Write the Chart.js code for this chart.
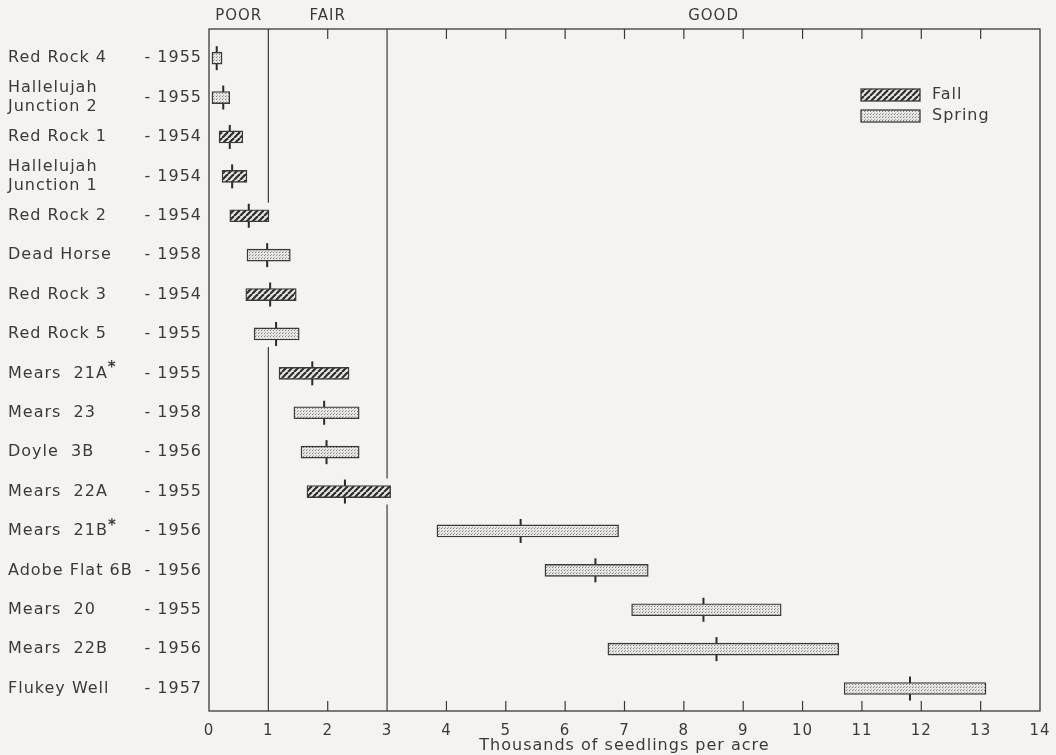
<!DOCTYPE html>
<html>
<head>
<meta charset="utf-8">
<script src="https://cdn.jsdelivr.net/npm/chart.js@4"></script>
<style>
  html, body { margin: 0; padding: 0; background: #f4f3ef; }
  #wrap { width: 1056px; height: 755px; position: relative; }
</style>
</head>
<body>
<div id="wrap"><canvas id="chart" width="1056" height="755"></canvas></div>
<script>
// sites, top to bottom ("|" splits a name over two lines, "*" is raised)
const siteNames = [
    "Red Rock 4", "Hallelujah|Junction 2", "Red Rock 1", "Hallelujah|Junction 1",
    "Red Rock 2", "Dead Horse", "Red Rock 3", "Red Rock 5", "Mears  21A*",
    "Mears  23", "Doyle  3B", "Mears  22A", "Mears  21B*", "Adobe Flat 6B",
    "Mears  20", "Mears  22B", "Flukey Well"
];
const siteYears = ["1955", "1955", "1954", "1954", "1954", "1958", "1954", "1955", "1955",
    "1958", "1956", "1955", "1956", "1956", "1955", "1956", "1957"];
const seasons = ["Spring", "Spring", "Fall", "Fall", "Fall", "Spring", "Fall", "Spring", "Fall",
    "Spring", "Spring", "Fall", "Spring", "Spring", "Spring", "Spring", "Spring"];

// thousands of seedlings per acre
const lows  = [0.05, 0.05, 0.17, 0.22, 0.35, 0.64, 0.62, 0.76, 1.18, 1.43, 1.55, 1.65, 3.84, 5.66, 7.12, 6.72, 10.70];
const highs = [0.22, 0.35, 0.57, 0.64, 1.01, 1.37, 1.47, 1.52, 2.36, 2.53, 2.53, 3.06, 6.90, 7.40, 9.64, 10.61, 13.09];
const means = [0.13, 0.24, 0.35, 0.39, 0.67, 0.98, 1.03, 1.13, 1.74, 1.94, 1.98, 2.29, 5.25, 6.51, 8.33, 8.55, 11.81];

const xTicks = [0, 1, 2, 3, 4, 5, 6, 7, 8, 9, 10, 11, 12, 13, 14];
const classBreaks = [1, 3];
const classNames = ["POOR", "FAIR", "GOOD"];

const ink = "#3a3a3a";
const font = "'DejaVu Sans', 'Noto Sans', sans-serif";

function makeHatch() {
    const c = document.createElement("canvas");
    c.width = 6; c.height = 6;
    const g = c.getContext("2d");
    g.fillStyle = "#e6e6e3";
    g.fillRect(0, 0, 6, 6);
    g.strokeStyle = "#2e2e2e";
    g.lineWidth = 2.2;
    [-6, 0, 6].forEach(o => {
        g.beginPath();
        g.moveTo(o, 6);
        g.lineTo(o + 6, 0);
        g.stroke();
    });
    return g.createPattern(c, "repeat");
}

function makeStipple() {
    const c = document.createElement("canvas");
    c.width = 3; c.height = 3;
    const g = c.getContext("2d");
    g.fillStyle = "#e6e6e3";
    g.fillRect(0, 0, 3, 3);
    g.fillStyle = "#808080";
    g.fillRect(0, 0, 1, 1);
    g.fillStyle = "#aaaaaa";
    g.fillRect(1, 2, 1, 1);
    return g.createPattern(c, "repeat");
}

const hatch = makeHatch();
const stipple = makeStipple();

function rowsFor(season) {
    const out = [];
    seasons.forEach((s, i) => {
        if (s === season) out.push({ x: [lows[i], highs[i]], y: i });
    });
    return out;
}

// wider lettering, like the drafted original
const spacing = {
    id: "spacing",
    beforeDraw(chart) { chart.ctx.letterSpacing = "1px"; }
};

// frame, inward ticks, class lines and headings, site labels, legend
const decor = {
    id: "decor",
    beforeDatasetsDraw(chart) {
        const { ctx, chartArea: a, scales: { x, y } } = chart;
        ctx.save();
        ctx.strokeStyle = ink;
        ctx.lineWidth = 1.3;
        ctx.strokeRect(a.left, a.top, a.right - a.left, a.bottom - a.top);

        // inward ticks top and bottom
        ctx.lineWidth = 1.2;
        xTicks.forEach(v => {
            if (v === 0 || v === 14 || classBreaks.includes(v)) return;
            const px = x.getPixelForValue(v);
            ctx.beginPath();
            ctx.moveTo(px, a.top); ctx.lineTo(px, a.top + 10);
            ctx.moveTo(px, a.bottom); ctx.lineTo(px, a.bottom - 10);
            ctx.stroke();
        });

        // class boundary lines, broken where bars cross them
        const step = Math.abs(y.getPixelForValue(1) - y.getPixelForValue(0));
        classBreaks.forEach(v => {
            const px = x.getPixelForValue(v);
            const hit = [];
            lows.forEach((lo, i) => { if (lo <= v && highs[i] >= v) hit.push(i); });
            let segStart = a.top;
            let i = 0;
            while (i < hit.length) {
                let j = i;
                while (j + 1 < hit.length && hit[j + 1] === hit[j] + 1) j++;
                const gTop = y.getPixelForValue(hit[i]) - step * 0.33;
                const gBot = y.getPixelForValue(hit[j]) + step * 0.33;
                ctx.beginPath();
                ctx.moveTo(px, segStart); ctx.lineTo(px, gTop);
                ctx.stroke();
                segStart = gBot;
                i = j + 1;
            }
            ctx.beginPath();
            ctx.moveTo(px, segStart); ctx.lineTo(px, a.bottom);
            ctx.stroke();
        });

        // POOR / FAIR / GOOD headings
        const edges = [x.min].concat(classBreaks, [x.max]);
        ctx.fillStyle = ink;
        ctx.font = "15px " + font;
        ctx.textAlign = "center";
        ctx.textBaseline = "middle";
        classNames.forEach((n, k) => {
            const mid = (edges[k] + edges[k + 1]) / 2;
            ctx.fillText(n, x.getPixelForValue(mid), a.top - 13);
        });

        // site names and years
        ctx.font = "16px " + font;
        siteNames.forEach((name, i) => {
            const py = y.getPixelForValue(i);
            const lines = name.split("|");
            lines.forEach((ln, k) => {
                const ly = py + (k - (lines.length - 1) / 2) * 19;
                ctx.textAlign = "left";
                const star = ln.endsWith("*");
                const txt = star ? ln.slice(0, -1) : ln;
                ctx.fillText(txt, 8, ly);
                if (star) {
                    const w = ctx.measureText(txt).width;
                    ctx.font = "bold 15px " + font;
                    ctx.fillText("*", 8 + w, ly - 5);
                    ctx.font = "16px " + font;
                }
            });
            ctx.textAlign = "right";
            ctx.fillText("- " + siteYears[i], a.left - 7, py);
        });

        // legend
        const items = [["Fall", hatch], ["Spring", stipple]];
        items.forEach(([label, fill], k) => {
            const lx = 861, ly = 89 + k * 21;
            ctx.fillStyle = fill;
            ctx.fillRect(lx, ly, 59, 12);
            ctx.strokeStyle = ink;
            ctx.lineWidth = 1.3;
            ctx.strokeRect(lx, ly, 59, 12);
            ctx.fillStyle = ink;
            ctx.textAlign = "left";
            ctx.fillText(label, lx + 71, ly + 6);
        });
        ctx.restore();
    }
};

new Chart(document.getElementById("chart"), {
    type: "bar",
    data: {
        datasets: [
            {
                label: "Fall",
                indexAxis: "y",
                grouped: false,
                data: rowsFor("Fall"),
                backgroundColor: hatch,
                borderColor: ink,
                borderWidth: 1.4,
                borderSkipped: false,
                barThickness: 12
            },
            {
                label: "Spring",
                indexAxis: "y",
                grouped: false,
                data: rowsFor("Spring"),
                backgroundColor: stipple,
                borderColor: ink,
                borderWidth: 1.4,
                borderSkipped: false,
                barThickness: 12
            },
            {
                label: "Mean",
                type: "scatter",
                data: means.map((m, i) => ({ x: m, y: i })),
                pointStyle: "line",
                rotation: 90,
                radius: 12,
                hoverRadius: 12,
                borderColor: "#2a2a2a",
                borderWidth: 2
            }
        ]
    },
    options: {
        responsive: false,
        animation: false,
        layout: { padding: { left: 209, right: 16, top: 29, bottom: 0 } },
        plugins: {
            legend: { display: false },
            tooltip: { enabled: false }
        },
        scales: {
            x: {
                type: "linear",
                min: 0,
                max: 14,
                offset: false,
                afterFit(scale) { scale.height = 44; },
                afterBuildTicks(scale) { scale.ticks = xTicks.map(v => ({ value: v })); },
                grid: { display: false },
                border: { display: false },
                ticks: {
                    color: ink,
                    font: { family: font, size: 15 },
                    padding: 3,
                    maxRotation: 0,
                    autoSkip: false,
                    callback: v => String(v)
                },
                title: {
                    display: true,
                    text: "Thousands of seedlings per acre",
                    color: ink,
                    font: { family: font, size: 16 },
                    padding: { top: 0, bottom: 0 }
                }
            },
            y: {
                type: "linear",
                reverse: true,
                min: -0.74,
                max: 16.57,
                offset: false,
                display: false
            }
        }
    },
    plugins: [spacing, decor]
});
</script>
</body>
</html>
